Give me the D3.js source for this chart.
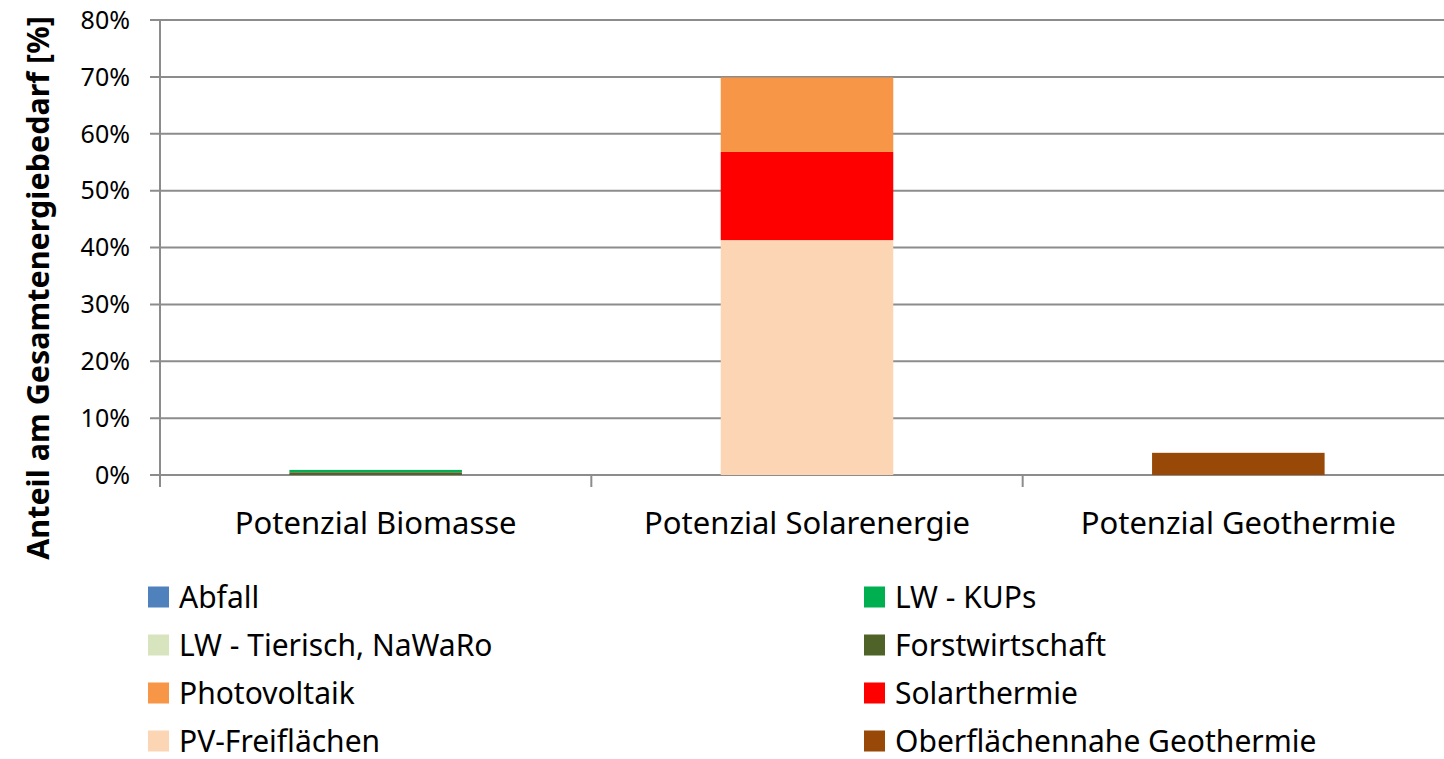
<!DOCTYPE html>
<html>
<head>
<meta charset="utf-8">
<script src="https://cdn.jsdelivr.net/npm/d3@7"></script>
<style>
body { margin: 0; background: #fff; }
svg { font-family: "Noto Sans", "Open Sans", sans-serif; }
</style>
</head>
<body>
<svg></svg>
<script>
var WIDTH = 1444;
var HEIGHT = 759;

var categories = ['Potenzial Biomasse', 'Potenzial Solarenergie', 'Potenzial Geothermie'];

// stacked from bottom to top
var seriesNames = ['Oberflächennahe Geothermie', 'PV-Freiflächen', 'Solarthermie', 'Photovoltaik',
                   'Forstwirtschaft', 'LW - Tierisch, NaWaRo', 'LW - KUPs', 'Abfall'];
var seriesColors = ['#984807', '#fcd5b5', '#ff0000', '#f79646',
                    '#4f6228', '#d7e4bd', '#00b050', '#4f81bd'];
// values per category (%): Biomasse, Solarenergie, Geothermie
var geothermie = [0, 0, 3.9];
var pvFrei = [0, 41.3, 0];
var solarthermie = [0, 15.5, 0];
var photovoltaik = [0, 13.1, 0];
var forst = [0.5, 0, 0];
var tierisch = [0.03, 0, 0];
var kups = [0.35, 0, 0];
var abfall = [0.02, 0, 0];
var seriesValues = [geothermie, pvFrei, solarthermie, photovoltaik, forst, tierisch, kups, abfall];

var yTicks = [0, 10, 20, 30, 40, 50, 60, 70, 80];
var legendOrder = ['Abfall', 'LW - KUPs', 'LW - Tierisch, NaWaRo', 'Forstwirtschaft',
                   'Photovoltaik', 'Solarthermie', 'PV-Freiflächen', 'Oberflächennahe Geothermie'];

var svg = d3.select('svg').attr('width', WIDTH).attr('height', HEIGHT);

var plotLeft = 160, plotRight = 1454, plotTop = 20, plotBottom = 475;

var yScale = d3.scaleLinear().domain([0, 80]).range([plotBottom, plotTop]);
var xScale = d3.scaleBand().domain(categories).range([plotLeft, plotRight]).paddingInner(0.6).paddingOuter(0.3);
var bandScale = d3.scaleBand().domain(categories).range([plotLeft, plotRight]);

// gridlines
svg.append('g').selectAll('line').data(yTicks).enter().append('line')
  .attr('x1', plotLeft - 10).attr('x2', WIDTH)
  .attr('y1', function(d){ return yScale(d); })
  .attr('y2', function(d){ return yScale(d); })
  .attr('stroke', '#8c8c8c').attr('stroke-width', 2);

// y axis line
svg.append('line').attr('x1', plotLeft).attr('x2', plotLeft).attr('y1', plotTop).attr('y2', plotBottom + 12)
  .attr('stroke', '#8c8c8c').attr('stroke-width', 2);

// category ticks
svg.append('g').selectAll('line').data(categories.slice(1)).enter().append('line')
  .attr('x1', function(d){ return bandScale(d); })
  .attr('x2', function(d){ return bandScale(d); })
  .attr('y1', plotBottom).attr('y2', plotBottom + 12)
  .attr('stroke', '#8c8c8c').attr('stroke-width', 2);

// y tick labels
svg.append('g').selectAll('text').data(yTicks).enter().append('text')
  .attr('x', plotLeft - 30).attr('y', function(d){ return yScale(d); })
  .attr('dy', '0.35em').attr('text-anchor', 'end')
  .attr('font-size', 25).attr('fill', '#000')
  .text(function(d){ return d + '%'; });

// stacked bars
var stackData = categories.map(function(c, i){
  var row = { cat: c };
  seriesNames.forEach(function(s, j){ row[s] = seriesValues[j][i]; });
  return row;
});
var stacked = d3.stack().keys(seriesNames)(stackData);

svg.append('g').selectAll('g').data(stacked).enter().append('g')
  .attr('fill', function(d, i){ return seriesColors[i]; })
  .selectAll('rect').data(function(d){ return d; }).enter().append('rect')
  .attr('x', function(d){ return xScale(d.data.cat); })
  .attr('width', xScale.bandwidth())
  .attr('y', function(d){ return yScale(d[1]); })
  .attr('height', function(d){ return yScale(d[0]) - yScale(d[1]); });

// x labels
svg.append('g').selectAll('text').data(categories).enter().append('text')
  .attr('x', function(d){ return bandScale(d) + bandScale.bandwidth() / 2; })
  .attr('y', 534).attr('text-anchor', 'middle')
  .attr('font-size', 31).attr('fill', '#000')
  .text(function(d){ return d; });

// y axis title
svg.append('text')
  .attr('transform', 'translate(49,288) rotate(-90)')
  .attr('text-anchor', 'middle').attr('font-size', 30.5).attr('font-weight', 'bold')
  .text('Anteil am Gesamtenergiebedarf [%]');

// legend
var legend = svg.append('g').selectAll('g').data(legendOrder).enter().append('g')
  .attr('transform', function(d, i){
    var col = i % 2, row = Math.floor(i / 2);
    return 'translate(' + (col === 0 ? 148 : 864) + ',' + (597 + row * 48) + ')';
  });
legend.append('rect').attr('x', 0).attr('y', -10.5).attr('width', 21).attr('height', 21)
  .attr('fill', function(d){ return seriesColors[seriesNames.indexOf(d)]; });
legend.append('text').attr('x', 31).attr('dy', '0.35em')
  .attr('font-size', 30).attr('fill', '#000')
  .text(function(d){ return d; });
</script>
</body>
</html>
